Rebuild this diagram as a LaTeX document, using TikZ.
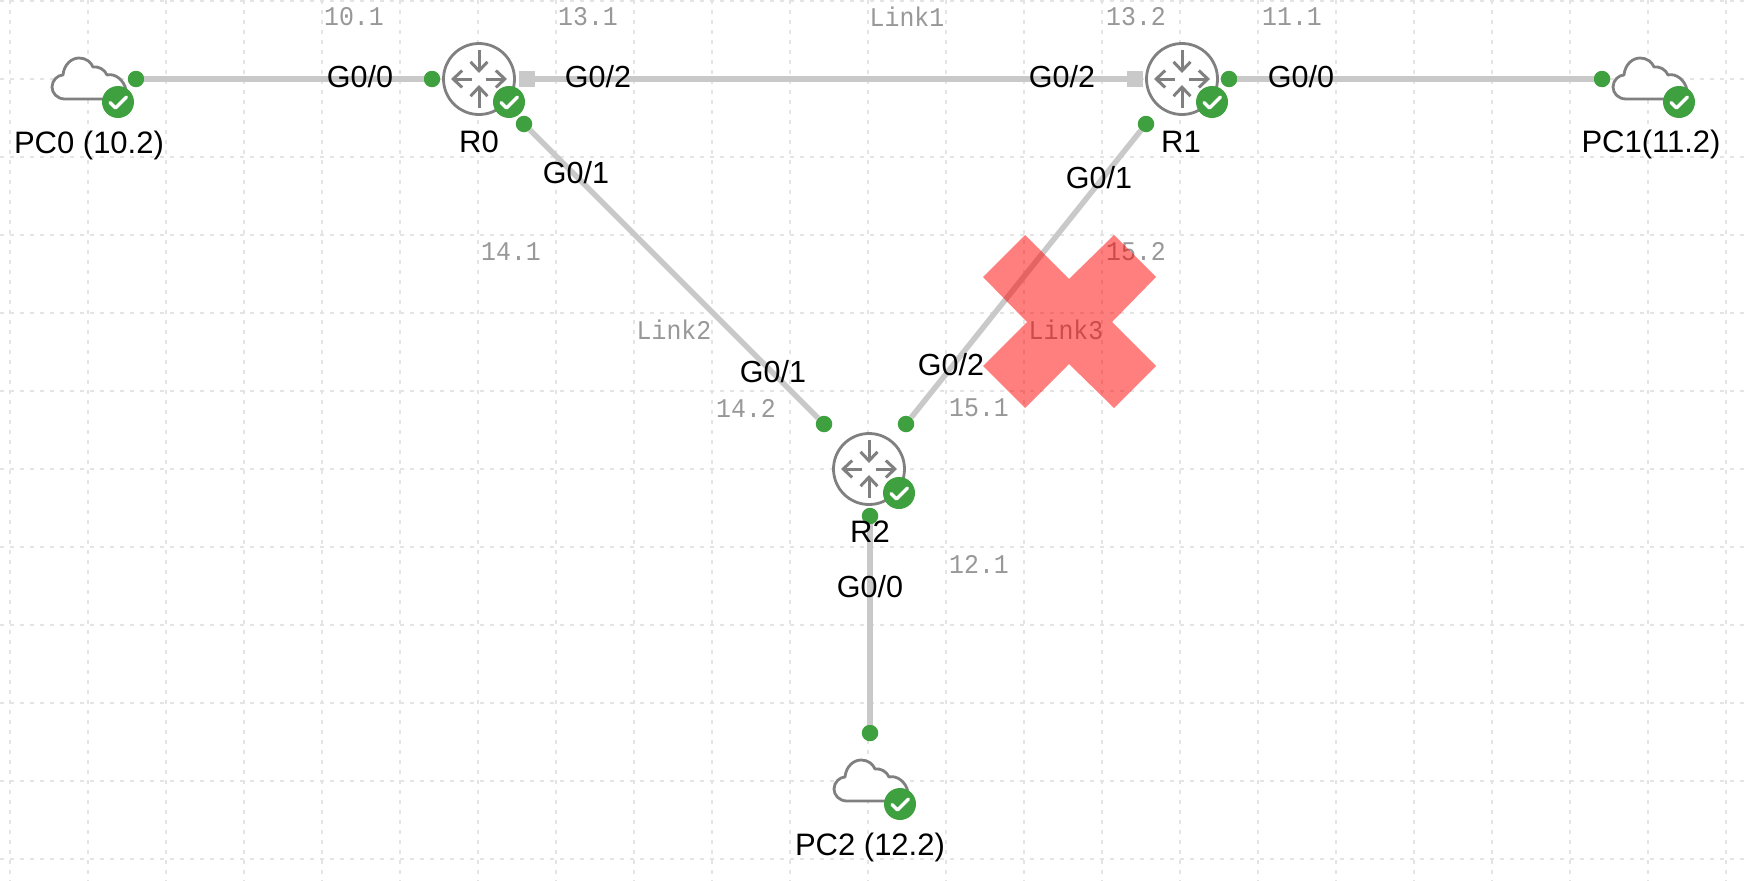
\documentclass[tikz,border=0pt]{standalone}
\usepackage{fontspec}
\setmainfont{Liberation Sans}
\newfontfamily\addrfont[FakeStretch=0.92]{Liberation Mono}
\definecolor{lnk}{HTML}{C9C9C9}
\definecolor{okg}{HTML}{3FA03F}
\definecolor{ico}{HTML}{808080}
\definecolor{gridc}{HTML}{E4E4E4}
\definecolor{addr}{HTML}{989898}
\usetikzlibrary{arrows.meta}
\tikzset{
  x=1pt,y=-1pt,
  link/.style={draw=lnk,line width=5.5pt},
  gridline/.style={draw=gridc,line width=1.3pt,dash pattern=on 4pt off 6pt},
  port/.style={circle,fill=okg,inner sep=0pt,minimum size=16.5pt},
  sqport/.style={rectangle,fill=lnk,inner sep=0pt,minimum size=16.5pt},
  ifname/.style={font=\fontsize{30.5}{30.5}\selectfont,text=black,inner sep=0pt},
  hostname/.style={font=\fontsize{31}{31}\selectfont,text=black,inner sep=0pt},
  addrlabel/.style={font=\addrfont\fontsize{27}{27}\selectfont,text=addr,inner sep=0pt},
  rtr/.style={circle,draw=ico,line width=2.8pt,fill=white,inner sep=0pt,minimum size=71pt},
  arrowic/.style={draw=ico,line width=3pt,-{Straight Barb[length=9pt,width=17pt]}},
  badge/.style={circle,fill=okg,inner sep=0pt,minimum size=32pt},
  tick/.style={draw=white,line width=3.4pt,line cap=round,line join=round},
  cloudline/.style={draw=ico,line width=2.8pt,fill=white,line join=round},
  cross/.style={fill=red,fill opacity=.5},
}
\newcommand{\routericon}[1]{%
  \begin{scope}[shift={(#1)}]
    \draw[arrowic] (0,-29) -- (0,-6);
    \draw[arrowic] (0,29) -- (0,6);
    \draw[arrowic] (-7,0) -- (-28,0);
    \draw[arrowic] (7,0) -- (28,0);
  \end{scope}}
\newcommand{\checkbadge}[2]{%
  \node[badge] (#1) at (#2) {};
  \draw[tick] ([shift={(-8,0.5)}]#1.center) -- ([shift={(-2.5,6)}]#1.center) -- ([shift={(8.5,-5)}]#1.center);}
\newcommand{\cloudicon}[1]{%
  \begin{scope}[shift={(#1)}]
    \draw[cloudline] (-53,-3) .. controls (-61,-3) and (-66,-9) .. (-66,-15)
      .. controls (-66,-22) and (-60,-27) .. (-55,-27)
      .. controls (-54,-38) and (-46,-44) .. (-39,-44)
      .. controls (-32,-44) and (-27,-40) .. (-25,-35)
      .. controls (-19,-36) and (-13,-32) .. (-11,-27)
      .. controls (-3,-29) and (6,-22) .. (8,-12)
      -- (8,-3) -- cycle;
  \end{scope}}
\begin{document}
\begin{tikzpicture}
\useasboundingbox (0,0) rectangle (1746,881);
\fill[white] (0,0) rectangle (1746,881);
% grid
\foreach \gx in {10,88,...,1726} \draw[gridline] (\gx,0) -- (\gx,881);
\foreach \gy in {1,79,...,860} \draw[gridline] (0,\gy) -- (1746,\gy);
% ports
\node[port] (p0) at (136,79) {};
\node[port] (r0l) at (432,79) {};
\node[sqport] (r0r) at (527,79) {};
\node[port] (r0d) at (524,124) {};
\node[sqport] (r1l) at (1135,79) {};
\node[port] (r1r) at (1229,79) {};
\node[port] (r1d) at (1146,124) {};
\node[port] (p1) at (1602,79) {};
\node[port] (r2a) at (824,424) {};
\node[port] (r2b) at (906,424) {};
\node[port] (r2c) at (870,516) {};
\node[port] (p2) at (870,733) {};
% links
\draw[link] (p0) -- (r0l);
\draw[link] (r0r) -- (r1l);
\draw[link] (r1r) -- (p1);
\draw[link] (r0d) -- (r2a);
\draw[link] (r1d) -- (r2b);
\draw[link] (r2c) -- (p2);
% routers
\node[rtr] (R0) at (479,79) {};
\node[rtr] (R1) at (1182,79) {};
\node[rtr] (R2) at (869,469) {};
\routericon{479,79}
\routericon{1182,79}
\routericon{869,469}
% clouds
\cloudicon{118,102}
\cloudicon{1679,102}
\cloudicon{900,804}
% badges
\checkbadge{b0}{118,102}
\checkbadge{b1}{509,102}
\checkbadge{b2}{1212,102}
\checkbadge{b3}{899,493}
\checkbadge{b4}{1679,102}
\checkbadge{b5}{900,804}
% interface labels
\node[ifname] (i1) at (360,77) {G0/0};
\node[ifname] (i2) at (598,77) {G0/2};
\node[ifname] (i3) at (1062,77) {G0/2};
\node[ifname] (i4) at (1301,77) {G0/0};
\node[ifname] (i5) at (576,173) {G0/1};
\node[ifname] (i6) at (1099,178) {G0/1};
\node[ifname] (i7) at (773,372) {G0/1};
\node[ifname] (i8) at (951,365) {G0/2};
\node[ifname] (i9) at (870,587) {G0/0};
% host labels
\node[hostname] (n0) at (89,145) {PC0 (10.2)};
\node[hostname] (n1) at (479,142) {R0};
\node[hostname] (n2) at (1181,142) {R1};
\node[hostname] (n3) at (870,532) {R2};
\node[hostname] (n4) at (1651,144) {PC1(11.2)};
\node[hostname] (n5) at (870,847) {PC2 (12.2)};
% address labels
\node[addrlabel] (a1) at (354,17) {10.1};
\node[addrlabel] (a2) at (588,17) {13.1};
\node[addrlabel] (a3) at (907,17) {Link1};
\node[addrlabel] (a4) at (1136,17) {13.2};
\node[addrlabel] (a5) at (1292,17) {11.1};
\node[addrlabel] (a6) at (511,252) {14.1};
\node[addrlabel] (a7) at (674,330) {Link2};
\node[addrlabel] (a8) at (746,408) {14.2};
\node[addrlabel] (a9) at (979,408) {15.1};
\node[addrlabel] (a10) at (1066,330) {Link3};
\node[addrlabel] (a11) at (1136,252) {15.2};
\node[addrlabel] (a12) at (979,564) {12.1};
% cross
\fill[cross] (1025,235) -- (1069,279) -- (1114,235) -- (1156,277) -- (1112,322) -- (1156,366)
  -- (1114,408) -- (1069,364) -- (1025,408) -- (983,366) -- (1027,322) -- (983,277) -- cycle;
\end{tikzpicture}
\end{document}
